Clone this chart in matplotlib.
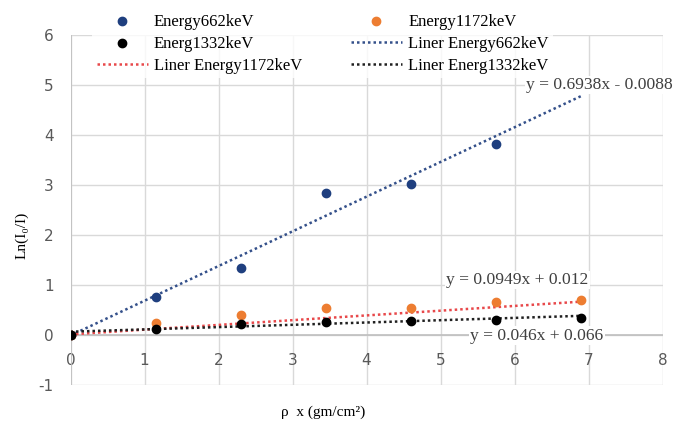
import numpy as np
import matplotlib.pyplot as plt

plt.rcParams["axes.unicode_minus"] = False

############ Data ############
x_vals = [0, 1.15, 2.3, 3.45, 4.6, 5.75, 6.9]
y_662 = [0, 0.77, 1.35, 2.85, 3.03, 3.82]
y_1172 = [0, 0.24, 0.40, 0.55, 0.55, 0.67, 0.70]
y_1332 = [0, 0.12, 0.22, 0.27, 0.28, 0.31, 0.35]

# trendline coefficients (slope, intercept) as printed on the chart
fit_662 = (0.6938, -0.0088)
fit_1172 = (0.0949, 0.012)
fit_1332 = (0.046, 0.066)

eq_662 = "y = 0.6938x - 0.0088"
eq_1172 = "y = 0.0949x + 0.012"
eq_1332 = "y = 0.046x + 0.066"

c_blue = "#1f3f7f"
c_orange = "#ed7d31"
c_black = "#000000"
c_red = "#e8484a"
c_navy_line = "#34508a"

serif = "Liberation Serif"

############ Plot ############
fig = plt.figure(figsize=(6.76, 4.26), dpi=100)
ax = fig.add_axes([70.5 / 676, 41 / 426, 592 / 676, 350 / 426])

xl = np.linspace(0, 6.9, 50)
ax.plot(xl, fit_662[0] * xl + fit_662[1], ls=(0, (1, 1.2)), lw=1.8, color=c_navy_line,
        label="Liner Energy662keV", zorder=2)
ax.plot(xl, fit_1172[0] * xl + fit_1172[1], ls=(0, (1, 1.2)), lw=1.8, color=c_red,
        label="Liner Energy1172keV", zorder=2)
ax.plot(xl, fit_1332[0] * xl + fit_1332[1], ls=(0, (1, 1.2)), lw=1.8, color="#202020",
        label="Liner Energ1332keV", zorder=2)

ax.scatter(x_vals[:len(y_662)], y_662, s=36, color=c_blue, label="Energy662keV", zorder=3)
ax.scatter(x_vals, y_1172, s=36, color=c_orange, label="Energy1172keV", zorder=3)
ax.scatter(x_vals, y_1332, s=36, color=c_black, label="Energ1332keV", zorder=3)

ax.set_xlim(0, 8)
ax.set_ylim(-1, 6)
ax.set_xticks(range(0, 9))
ax.set_yticks(range(-1, 7))
ax.grid(True, color="#d9d9d9", lw=1)
ax.set_axisbelow(True)
for s in ax.spines.values():
    s.set_visible(False)
# x tick labels sit next to the zero line, like Excel
ax.spines["bottom"].set_position(("data", 0))
ax.axhline(0, color="#bfbfbf", lw=1.2, zorder=1)
ax.axvline(0, color="#bfbfbf", lw=1.2, zorder=1)
ax.tick_params(length=0, labelsize=11, labelcolor="#595959")
ax.tick_params(axis="x", pad=13)
ax.tick_params(axis="y", pad=12)

fig.text(323 / 676, 1 - 412 / 426, "ρ  x (gm/cm²)", family=serif, fontsize=11,
         ha="center", va="center")
fig.text(22 / 676, 1 - 235 / 426, "Ln(I₀/I)", family=serif, fontsize=11,
         ha="center", va="center", rotation=90)

box = dict(facecolor="white", edgecolor="none", pad=1)
ax.text(6.16, 5.0, eq_662, family=serif, fontsize=12.6, color="#404040", bbox=box,
        va="center")
ax.text(5.08, 1.1, eq_1172, family=serif, fontsize=12.6, color="#404040", bbox=box,
        va="center")
ax.text(5.4, -0.01, eq_1332, family=serif, fontsize=12.6, color="#404040", bbox=box,
        va="center")

h, l = ax.get_legend_handles_labels()
order = [3, 5, 1, 4, 0, 2]
leg = fig.legend([h[i] for i in order], [l[i] for i in order], ncol=2,
                 loc="upper left", bbox_to_anchor=(84 / 676, 1 - 1 / 426), frameon=True,
                 prop={"family": serif, "size": 12}, labelspacing=0.38,
                 columnspacing=2.9, handlelength=3.1, handletextpad=0.35,
                 borderpad=0.25)
leg.get_frame().set_edgecolor("none")
leg.get_frame().set_facecolor("white")

fig.savefig("out.png", dpi=100)
